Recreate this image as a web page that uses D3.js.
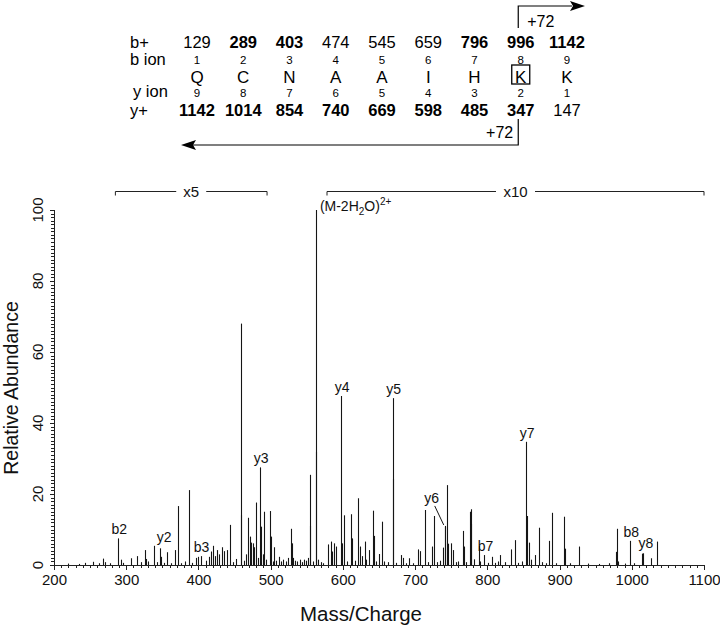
<!DOCTYPE html>
<html>
<head>
<meta charset="utf-8">
<script src="https://cdn.jsdelivr.net/npm/d3@7"></script>
<style>
  body { margin: 0; background: #fff; }
  svg { display: block; font-family: "Liberation Sans", Arial, sans-serif; }
  .axis path, .axis line { stroke: #222; shape-rendering: crispEdges; }
  .axis text { fill: #111; }
</style>
</head>
<body>
<svg id="chart" width="720" height="626"></svg>
<script>
// ---- fragment table ----
var residues   = ["Q", "C", "N", "A", "A", "I", "H", "K", "K"];
var bIons      = [129, 289, 403, 474, 545, 659, 796, 996, 1142];
var bObserved  = [false, true, true, false, false, false, true, true, true];
var yIons      = [1142, 1014, 854, 740, 669, 598, 485, 347, 147];
var yObserved  = [true, true, true, true, true, true, true, true, false];
var modified   = 8;   // boxed residue position
var shift      = "+72";

// ---- spectrum: [m/z, relative abundance] ----
var peaks = [
  [220,0.4],[234,0.3],[243,0.6],[254,0.9],[262,0.5],[268,1.8],[271,0.8],[278,0.5],
  [289,7.5],[293,1.5],[296,0.6],[307,1.9],[315,2.5],[321,0.8],[325.6,4.2],[328,1.7],
  [330,1.0],[338.5,5.4],[342,0.8],[346.3,4.7],[348,2.3],[352,0.6],[357,3.6],[362,0.5],
  [367,4.2],[371.6,16.6],[376,0.5],[381,1.0],[387,21.1],[391,0.6],[397,2.0],[400,2.3],
  [403,2.5],[410,1.2],[414,2.3],[417,3.8],[420,5.4],[423,2.5],[426,4.2],[429,3.0],
  [432,5.0],[436,3.9],[440,4.2],[444,11.3],[448,0.8],[452,1.7],[458.6,68],[459.4,14],
  [463,1.2],[466,3.0],[468,13.3],[471,8.0],[473,6.3],[475,6.1],[477,5.0],[479.8,17.6],
  [482,2.0],[485.3,27.5],[486.5,10.8],[489,3.0],[491,15],[494,1.5],[499,15.2],[500,8],
  [503,1.0],[505,5.0],[508,1.2],[511,2.3],[514,1.0],[517,1.5],[521,1.0],[524,2.0],
  [528,10.2],[529,6.1],[531,2.0],[534,1.2],[537,1.0],[540,1.5],[543,0.8],[546,1.5],
  [549,1.2],[552,2.0],[554.3,25.4],[555,11],[558,1.0],[562.6,100],[563.3,32],[566,1.5],
  [569,0.8],[573,0.5],[580,5.8],[583,6.6],[585,3.8],[588,6.1],[591,5.2],[597.6,47.6],
  [599,6.1],[601.7,14],[605,1.0],[611,14.3],[613,7.5],[617,1.2],[621.5,18.8],[624,5.2],
  [626,2.5],[630,6.6],[632,1.5],[636,4.2],[641.3,15.3],[642.5,8.2],[646,1.0],[650,3.1],
  [653.7,12.2],[657,1.0],[662,0.8],[669,47],[669.6,24.4],[674,0.6],[680,2.8],[683,2.0],
  [687,0.5],[692,1.9],[697,0.5],[703.9,4.4],[707,3.9],[713.5,15.5],[718,0.8],[723,5.2],
  [726,13.8],[730,0.8],[734,1.2],[738.8,4.9],[741,11],[742,10.8],[744,22.5],[746,6],
  [749,6.1],[752,4.2],[756,0.8],[760,1.0],[766.4,9.6],[767.2,5.2],[770,0.8],[776,15],
  [777,15.7],[778,11.5],[781,1.6],[788,5.4],[790,1.0],[796,2.8],[801,0.6],[806,2.3],
  [810,0.6],[815,1.0],[818,2.8],[825,0.8],[832.7,4.4],[837.8,7.0],[843,0.6],[848,1.0],
  [853.9,34.7],[854.6,13.8],[858,6.3],[860,1.5],[866,2.8],[870.9,10.5],[876,0.8],[881,0.5],
  [885.6,6.8],[889.3,14.7],[895,0.5],[905.9,13.6],[907,4.6],[915,0.5],[927,5.2],[940,0.4],
  [955,0.3],[968,0.5],[978.5,3.7],[979.5,10.2],[981,1.0],[990,0.4],[998,6.8],[1003,0.5],
  [1014,3.2],[1015.5,3.3],[1027,1.9],[1035,6.6]
];

// labelled fragment peaks
var labelNames = ["b2", "y2", "b3", "y3", "y4", "y5", "y6", "b7", "y7", "b8", "y8"];
var labelMz    = [289, 347, 403, 485.3, 597.6, 669, 741, 796, 853.9, 998, 1014];
var labelInt   = [7.5, 4.7, 2.5, 27.5, 47.6, 47, 11, 2.8, 34.7, 6.8, 3.2];

// magnification ranges
var zoomNames = ["x5", "x10"];
var zoomStart = [285, 578];
var zoomEnd   = [495, 1100];

var precursorMz = 562.6;

var xTicks = d3.range(200, 1101, 100);
var yTicks = d3.range(0, 101, 20);

// ---------------------------------------------------------------
var svg = d3.select("#chart");
var ink = "#151515";

var x = d3.scaleLinear().domain([200, 1100]).range([54, 704]);
var y = d3.scaleLinear().domain([0, 100]).range([565, 210]);

// ---- fragment table ----
var col = d3.scaleLinear().domain([1, 9]).range([197, 567]);
var table = svg.append("g").attr("fill", "#000");
var labelX = 130;

[["b+", 48], ["b ion", 65], ["y ion", 97], ["y+", 116]].forEach(function(r){
    table.append("text").attr("x", labelX + (r[0] == "y ion" ? 3 : 0)).attr("y", r[1])
        .attr("font-size", 16.5).text(r[0]);
});

residues.forEach(function(res, i){
    var cx = col(i + 1);
    table.append("text").attr("x", cx).attr("y", 48).attr("text-anchor", "middle")
        .attr("font-size", 16.5).attr("font-weight", bObserved[i] ? "bold" : "normal")
        .text(bIons[i]);
    table.append("text").attr("x", cx).attr("y", 64).attr("text-anchor", "middle")
        .attr("font-size", 11.5).text(i + 1);
    table.append("text").attr("x", cx).attr("y", 83).attr("text-anchor", "middle")
        .attr("font-size", 17).text(res);
    table.append("text").attr("x", cx).attr("y", 97).attr("text-anchor", "middle")
        .attr("font-size", 11.5).text(9 - i);
    table.append("text").attr("x", cx).attr("y", 116).attr("text-anchor", "middle")
        .attr("font-size", 16.5).attr("font-weight", yObserved[i] ? "bold" : "normal")
        .text(yIons[i]);
});

// box around modified residue
var kx = col(modified);
table.append("rect").attr("x", kx - 9).attr("y", 65).attr("width", 18).attr("height", 19)
    .attr("fill", "none").attr("stroke", "#000").attr("stroke-width", 1.3);

// +72 arrows
var ax = kx - 2.5;
table.append("path").attr("d", "M" + ax + ",28V6H572")
    .attr("fill", "none").attr("stroke", "#000").attr("stroke-width", 1.2);
table.append("path").attr("d", "M585,6L570,1L573,6L570,11Z").attr("fill", "#000");
table.append("text").attr("x", ax + 9).attr("y", 27).attr("font-size", 16).text(shift);

table.append("path").attr("d", "M" + ax + ",119V145H192")
    .attr("fill", "none").attr("stroke", "#000").attr("stroke-width", 1.2);
table.append("path").attr("d", "M181,145L196,140L193,145L196,150Z").attr("fill", "#000");
table.append("text").attr("x", ax - 5).attr("y", 138).attr("text-anchor", "end")
    .attr("font-size", 16).text(shift);

// ---- axes ----
var gx = svg.append("g").attr("class", "axis").attr("transform", "translate(0,565)");
gx.call(d3.axisBottom(x).tickValues(d3.range(200, 1101, 10)).tickSize(3).tickFormat(""));
gx.append("g").call(d3.axisBottom(x).tickValues(xTicks).tickSize(5).tickPadding(4)
        .tickFormat(d3.format("d")))
    .call(function(g){ g.select(".domain").remove(); })
    .selectAll("text").attr("font-size", 15).attr("fill", "#111")
    .attr("font-family", "Liberation Sans, Arial, sans-serif");

var gy = svg.append("g").attr("class", "axis").attr("transform", "translate(54,0)");
gy.call(d3.axisLeft(y).tickValues(d3.range(0, 101, 1)).tickSize(3).tickFormat(""));
gy.append("g").call(d3.axisLeft(y).tickValues(yTicks).tickSize(4).tickFormat(""))
    .call(function(g){ g.select(".domain").remove(); });
yTicks.forEach(function(v){
    svg.append("text").attr("transform", "translate(43," + y(v) + ") rotate(-90)")
        .attr("text-anchor", "middle").attr("font-size", 15).attr("fill", "#111").text(v);
});

svg.append("text").attr("transform", "translate(18,388) rotate(-90)")
    .attr("text-anchor", "middle").attr("font-size", 19.5).attr("fill", "#111")
    .text("Relative Abundance");
svg.append("text").attr("x", 361).attr("y", 621).attr("text-anchor", "middle")
    .attr("font-size", 20.5).attr("fill", "#111").text("Mass/Charge");

// ---- peaks ----
svg.append("g").selectAll("line").data(peaks).join("line")
    .attr("x1", function(d){ return Math.round(x(d[0])) + 0.5; })
    .attr("x2", function(d){ return Math.round(x(d[0])) + 0.5; })
    .attr("y1", y(0))
    .attr("y2", function(d){ return y(d[1]); })
    .attr("stroke", ink).attr("stroke-width", 1.1);

// ---- peak labels ----
labelNames.forEach(function(name, i){
    var px = x(labelMz[i]), py = y(labelInt[i]);
    var t = svg.append("text").attr("font-size", 14).attr("fill", "#111")
        .attr("text-anchor", "middle").text(name);
    if (name == "y6") {
        t.attr("x", px - 13).attr("y", py - 23);
        svg.append("line").attr("x1", px - 10).attr("y1", py - 20)
            .attr("x2", px - 1).attr("y2", py - 1).attr("stroke", ink);
    } else if (name == "y2" || name == "y8") {
        t.attr("x", px + 4).attr("y", py - 6);
    } else {
        t.attr("x", px + 1).attr("y", py - 4);
    }
});

// precursor label (M-2H2O)2+
var pl = svg.append("text").attr("x", x(precursorMz) + 4).attr("y", y(100) + 1)
    .attr("font-size", 14).attr("fill", "#111");
pl.append("tspan").text("(M-2H");
pl.append("tspan").attr("dy", 4).attr("font-size", 10).text("2");
pl.append("tspan").attr("dy", -4).text("O)");
pl.append("tspan").attr("dy", -6).attr("font-size", 10).text("2+");

// ---- magnification brackets ----
zoomNames.forEach(function(name, i){
    var x0 = x(zoomStart[i]), x1 = x(zoomEnd[i]), xm = (x0 + x1) / 2, by = 191.5;
    var g = svg.append("g").attr("stroke", "#222").attr("fill", "none");
    var half = name.length * 4.5 + 6;
    g.append("path").attr("d", "M" + x0 + "," + (by + 4) + "V" + by + "H" + (xm - half));
    g.append("path").attr("d", "M" + (xm + half) + "," + by + "H" + x1 + "V" + (by + 4));
    svg.append("text").attr("x", xm).attr("y", by + 5).attr("text-anchor", "middle")
        .attr("font-size", 15).attr("fill", "#111").text(name);
});
</script>
</body>
</html>
